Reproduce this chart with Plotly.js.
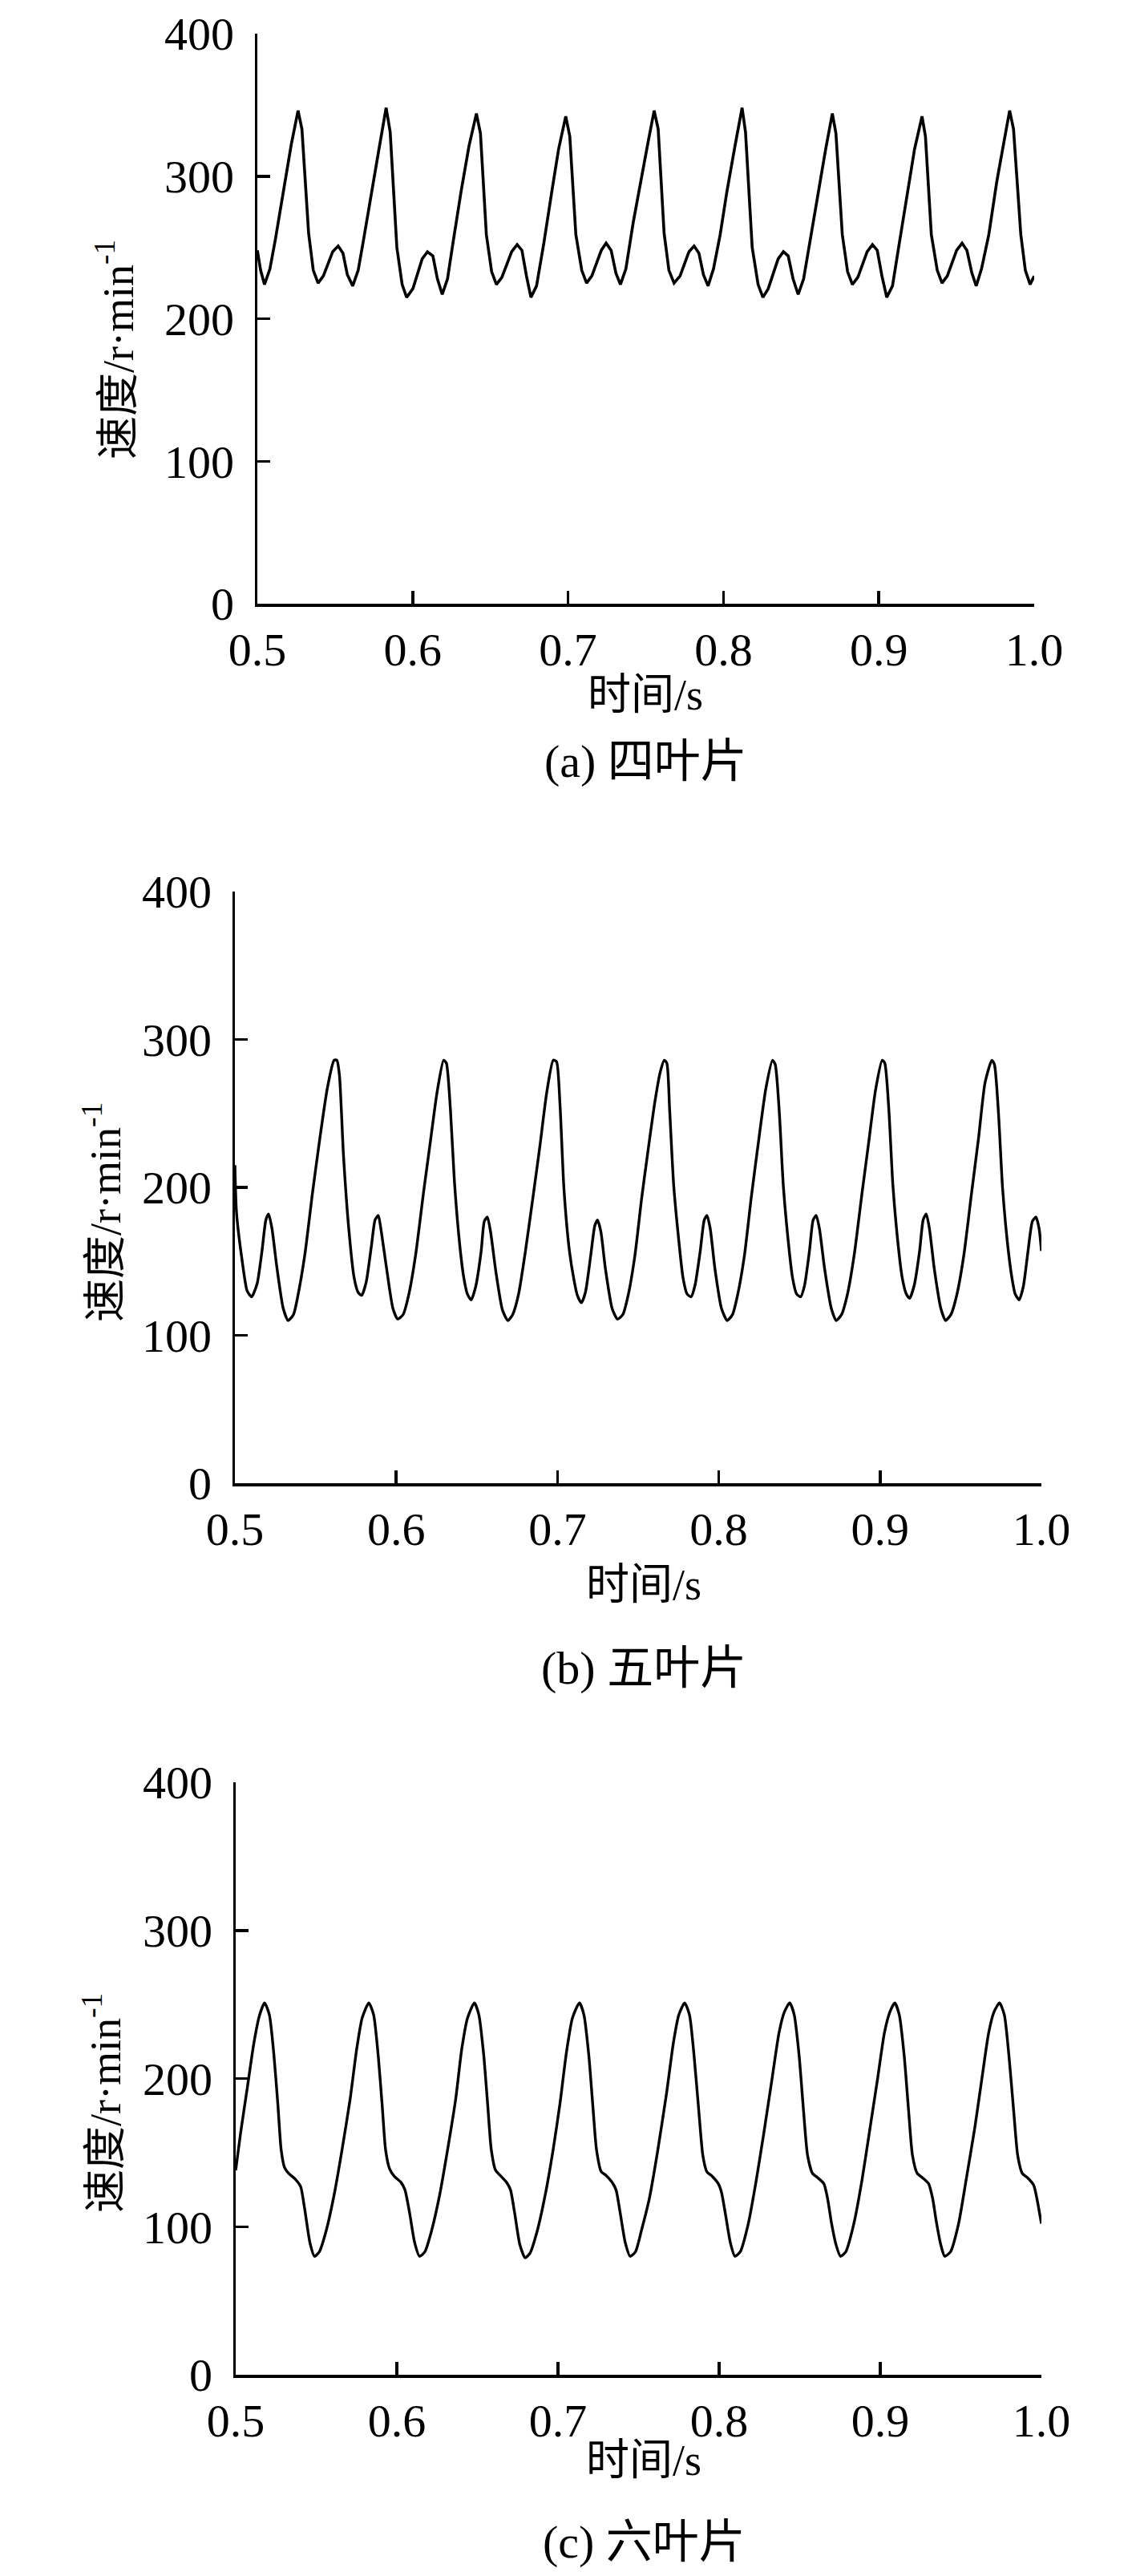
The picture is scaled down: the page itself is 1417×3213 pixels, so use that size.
<!DOCTYPE html>
<html>
<head>
<meta charset="utf-8">
<script src="https://cdn.plot.ly/plotly-3.0.1.min.js"></script>
<style>html,body{margin:0;padding:0;background:#fff;}#chart{width:1417px;height:3213px;}</style>
</head>
<body>
<div id="chart"></div>
<script>
// ---- Data ----
const xTickVals = [0.5, 0.6, 0.7, 0.8, 0.9, 1.0];
const xTickText = ['0.5', '0.6', '0.7', '0.8', '0.9', '1.0'];
const yTickVals = [0, 100, 200, 300, 400];
const yTickText = ['0', '100', '200', '300', '400'];

const xTitle = '时间/s';
const yTitle = '速度/r·min<sup>-1</sup>';
const captions = ['(a) 四叶片', '(b) 五叶片', '(c) 六叶片'];

// (a) four blades
const timeA = [0.5000,0.5021,0.5046,0.5081,0.5115,0.5167,0.5218,0.5262,0.5287,0.5330,0.5360,0.5391,0.5425,0.5485,0.5520,0.5551,0.5579,0.5614,0.5649,0.5683,0.5734,0.5786,0.5829,0.5855,0.5898,0.5932,0.5961,0.6001,0.6061,0.6095,0.6130,0.6159,0.6190,0.6224,0.6259,0.6311,0.6362,0.6410,0.6436,0.6474,0.6508,0.6539,0.6574,0.6637,0.6672,0.6703,0.6732,0.6761,0.6797,0.6844,0.6895,0.6939,0.6985,0.7011,0.7050,0.7088,0.7119,0.7153,0.7214,0.7245,0.7277,0.7308,0.7337,0.7372,0.7420,0.7472,0.7515,0.7554,0.7580,0.7618,0.7649,0.7682,0.7721,0.7778,0.7811,0.7842,0.7871,0.7901,0.7936,0.7979,0.8022,0.8074,0.8120,0.8142,0.8185,0.8223,0.8254,0.8288,0.8352,0.8386,0.8417,0.8448,0.8481,0.8516,0.8555,0.8607,0.8658,0.8701,0.8724,0.8765,0.8799,0.8830,0.8865,0.8925,0.8959,0.8990,0.9020,0.9051,0.9088,0.9132,0.9183,0.9230,0.9278,0.9300,0.9338,0.9376,0.9407,0.9441,0.9501,0.9536,0.9567,0.9599,0.9627,0.9661,0.9708,0.9759,0.9802,0.9842,0.9867,0.9914,0.9943,0.9974,1.0000];
const speedA = [248,234,224,235,255,290,322,346,333,260,234,225,230,247,251,246,231,223,234,255,289,321,348,331,250,224,215,221,242,247,244,228,217,228,253,289,321,344,330,259,233,224,229,247,252,248,230,215,223,253,289,319,342,328,259,234,225,230,248,253,248,232,224,235,268,300,324,346,333,260,234,225,230,247,251,246,231,223,235,259,289,321,348,331,250,224,215,221,242,247,244,228,217,228,253,289,319,344,330,259,233,224,229,247,252,248,230,215,223,253,289,319,342,328,259,234,225,230,248,253,248,232,223,235,259,296,322,346,333,259,234,224,230];

// (b) five blades
const timeB = [0.5000,0.5010,0.5043,0.5076,0.5104,0.5138,0.5168,0.5192,0.5209,0.5230,0.5259,0.5300,0.5330,0.5363,0.5391,0.5433,0.5482,0.5524,0.5573,0.5615,0.5632,0.5648,0.5673,0.5706,0.5739,0.5764,0.5786,0.5814,0.5847,0.5869,0.5889,0.5905,0.5938,0.5980,0.6009,0.6043,0.6079,0.6120,0.6170,0.6212,0.6253,0.6294,0.6311,0.6336,0.6361,0.6394,0.6419,0.6441,0.6465,0.6493,0.6527,0.6546,0.6565,0.6585,0.6618,0.6659,0.6692,0.6722,0.6759,0.6800,0.6850,0.6891,0.6933,0.6974,0.6994,0.7015,0.7040,0.7074,0.7103,0.7123,0.7148,0.7173,0.7206,0.7231,0.7248,0.7269,0.7297,0.7339,0.7372,0.7405,0.7438,0.7480,0.7521,0.7554,0.7604,0.7637,0.7662,0.7678,0.7695,0.7720,0.7753,0.7778,0.7803,0.7828,0.7853,0.7885,0.7910,0.7927,0.7947,0.7976,0.8017,0.8052,0.8085,0.8118,0.8159,0.8201,0.8251,0.8292,0.8333,0.8350,0.8375,0.8400,0.8433,0.8457,0.8482,0.8507,0.8532,0.8562,0.8585,0.8604,0.8624,0.8656,0.8698,0.8728,0.8761,0.8798,0.8839,0.8889,0.8930,0.8972,0.9013,0.9029,0.9054,0.9079,0.9112,0.9137,0.9162,0.9183,0.9212,0.9245,0.9267,0.9286,0.9306,0.9336,0.9377,0.9406,0.9439,0.9477,0.9519,0.9568,0.9610,0.9651,0.9693,0.9709,0.9734,0.9759,0.9792,0.9817,0.9837,0.9862,0.9888,0.9916,0.9944,0.9966,0.9986,1.0000];
const speedB = [215,183,152,130,126,135,157,178,182,172,147,118,110,114,127,154,197,231,267,286,286,276,222,172,139,129,127,136,161,178,181,172,147,118,111,114,128,154,197,231,264,286,284,253,204,161,139,128,124,133,157,177,180,170,143,117,110,114,128,156,195,228,264,286,285,257,199,157,137,127,122,129,154,174,178,170,145,118,111,114,127,154,192,219,258,278,286,284,253,202,163,139,128,126,134,157,178,181,172,145,118,110,114,128,154,193,235,267,286,283,251,201,161,139,128,126,134,157,178,181,172,145,118,110,114,128,154,197,231,266,286,284,253,202,161,139,128,125,134,157,178,182,172,145,118,110,114,128,154,197,233,271,286,283,250,200,160,139,128,124,133,156,177,180,172,157];

// (c) six blades
const timeC = [0.5000,0.5030,0.5071,0.5113,0.5146,0.5179,0.5209,0.5237,0.5262,0.5282,0.5303,0.5328,0.5370,0.5403,0.5428,0.5461,0.5489,0.5519,0.5561,0.5610,0.5660,0.5710,0.5751,0.5785,0.5826,0.5856,0.5884,0.5909,0.5930,0.5955,0.5984,0.6025,0.6050,0.6078,0.6111,0.6141,0.6174,0.6215,0.6265,0.6315,0.6365,0.6403,0.6439,0.6481,0.6509,0.6539,0.6564,0.6586,0.6613,0.6638,0.6680,0.6705,0.6730,0.6763,0.6796,0.6826,0.6871,0.6920,0.6970,0.7011,0.7053,0.7090,0.7133,0.7161,0.7191,0.7216,0.7239,0.7269,0.7294,0.7335,0.7360,0.7385,0.7418,0.7448,0.7481,0.7517,0.7567,0.7617,0.7675,0.7716,0.7750,0.7786,0.7816,0.7844,0.7874,0.7899,0.7924,0.7957,0.7995,0.8015,0.8040,0.8070,0.8098,0.8131,0.8181,0.8230,0.8280,0.8330,0.8372,0.8405,0.8438,0.8466,0.8496,0.8524,0.8549,0.8579,0.8612,0.8650,0.8673,0.8698,0.8725,0.8753,0.8786,0.8836,0.8886,0.8940,0.8985,0.9026,0.9060,0.9090,0.9118,0.9148,0.9176,0.9200,0.9229,0.9262,0.9300,0.9325,0.9350,0.9375,0.9400,0.9436,0.9486,0.9532,0.9587,0.9632,0.9673,0.9706,0.9740,0.9770,0.9798,0.9828,0.9853,0.9881,0.9914,0.9952,0.9972,1.0000];
const speedC = [138,163,193,224,242,251,243,216,182,152,140,136,132,127,112,89,80,83,97,121,152,186,220,241,251,243,216,182,152,139,134,130,125,110,89,80,83,97,121,152,186,220,241,251,243,216,182,152,138,135,130,125,110,88,79,82,97,121,152,182,218,241,251,243,216,182,152,137,135,130,125,110,89,80,83,97,119,150,191,224,243,251,243,216,178,148,137,134,129,123,108,89,80,83,102,131,165,201,231,245,251,243,216,178,148,136,133,129,119,102,88,80,83,102,131,169,201,231,245,251,243,216,178,148,136,133,129,119,102,88,80,83,102,131,167,201,231,245,251,243,216,178,148,136,133,128,119,102];

// ---- Layout helpers (pixel -> paper) ----
const W = 1417, H = 3213;
const px = v => v / W;
const py = v => 1 - v / H;

const FONT = "'Liberation Serif', 'Times New Roman', 'Noto Sans CJK SC', serif";

function xAxis(dom, anchor) {
  return {
    domain: dom, anchor: anchor, range: [0.5, 1.0],
    tickmode: 'array', tickvals: xTickVals, ticktext: xTickText,
    ticks: 'inside', ticklen: 16, tickwidth: 3.5, tickcolor: '#000',
    showline: true, linecolor: '#000', linewidth: 3.5, mirror: false,
    showgrid: false, zeroline: false,
    tickfont: {family: FONT, size: 58, color: '#000'},
    ticklabelstandoff: 4
  };
}
function yAxis(dom, anchor) {
  return {
    domain: dom, anchor: anchor, range: [0, 400],
    tickmode: 'array', tickvals: yTickVals, ticktext: yTickText,
    ticks: 'inside', ticklen: 16, tickwidth: 3.5, tickcolor: '#000',
    showline: true, linecolor: '#000', linewidth: 3.5, mirror: false,
    showgrid: false, zeroline: false,
    tickfont: {family: FONT, size: 58, color: '#000'},
    ticklabelstandoff: 14
  };
}

const traces = [
  {x: timeA, y: speedA, xaxis: 'x', yaxis: 'y', mode: 'lines', line: {color: '#000', width: 3.6}},
  {x: timeB, y: speedB, xaxis: 'x2', yaxis: 'y2', mode: 'lines', line: {color: '#000', width: 3.4, shape: 'spline', smoothing: 0.6}},
  {x: timeC, y: speedC, xaxis: 'x3', yaxis: 'y3', mode: 'lines', line: {color: '#000', width: 3.4, shape: 'spline', smoothing: 0.6}}
];

function ann(text, x, y, size, angle) {
  return {text: text, xref: 'paper', yref: 'paper', x: px(x), y: py(y),
          xanchor: 'center', yanchor: 'middle', showarrow: false,
          textangle: angle || 0, font: {family: FONT, size: size, color: '#000'}};
}

const layout = {
  width: W, height: H,
  margin: {l: 0, r: 0, t: 0, b: 0},
  paper_bgcolor: '#fff', plot_bgcolor: 'rgba(0,0,0,0)',
  showlegend: false,
  xaxis:  xAxis([px(321), px(1290)], 'y'),
  yaxis:  yAxis([py(753), py(42)], 'x'),
  xaxis2: xAxis([px(293), px(1299)], 'y2'),
  yaxis2: yAxis([py(1850), py(1112)], 'x2'),
  xaxis3: xAxis([px(294), px(1299)], 'y3'),
  yaxis3: yAxis([py(2962), py(2223)], 'x3'),
  annotations: [
    ann(yTitle, 143, 436, 54, -90),
    ann(xTitle, 805, 867, 54),
    ann(captions[0], 805, 949, 58),
    ann(yTitle, 127, 1512, 54, -90),
    ann(xTitle, 803, 1977, 54),
    ann(captions[1], 803, 2080, 58),
    ann(yTitle, 127, 2623, 54, -90),
    ann(xTitle, 803, 3069, 54),
    ann(captions[2], 803, 3170, 58)
  ]
};

Plotly.newPlot('chart', traces, layout, {staticPlot: true, displayModeBar: false});
</script>
</body>
</html>
